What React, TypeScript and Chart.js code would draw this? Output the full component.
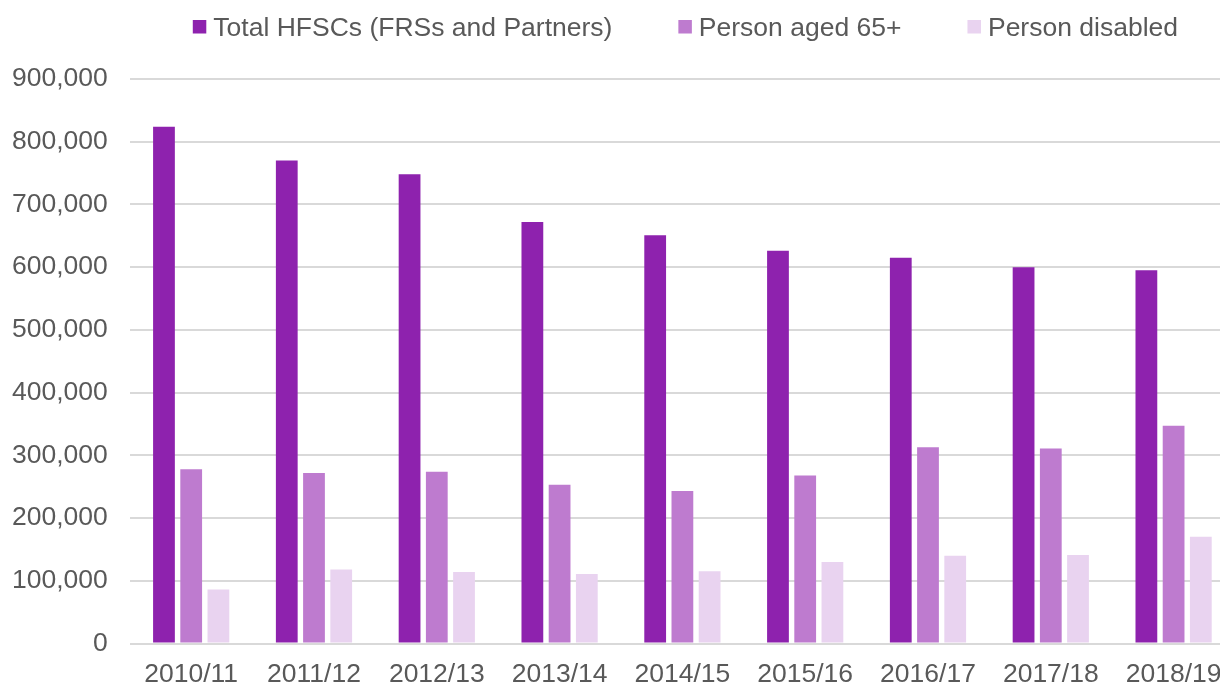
import React, { useEffect, useRef } from "react";
import { Chart, registerables } from "chart.js";

Chart.register(...registerables);

const categories = [
  "2010/11",
  "2011/12",
  "2012/13",
  "2013/14",
  "2014/15",
  "2015/16",
  "2016/17",
  "2017/18",
  "2018/19",
];

const totalHFSCs = [824000, 770000, 748000, 672000, 651000, 626000, 615000, 600000, 595000];
const personAged65 = [278000, 272000, 274000, 253000, 243000, 268000, 313000, 311000, 347000];
const personDisabled = [86000, 118000, 114000, 111000, 115000, 130000, 140000, 141000, 170000];

const seriesLabels = ["Total HFSCs (FRSs and Partners)", "Person aged 65+", "Person disabled"];
const seriesColors = ["#8E22AE", "#BE7BCF", "#E9D3F0"];

const yMin = 0;
const yMax = 900000;
const yStep = 100000;

const TEXT_COLOR = "#595959";
const FONT_FAMILY = '"Liberation Sans", Arial, Helvetica, sans-serif';
const FONT_SIZE = 26.5;

const legendPlugin = {
  id: "customTopLegend",
  afterDraw(chart: any) {
    const ctx = chart.ctx as CanvasRenderingContext2D;
    const ca = chart.chartArea;
    ctx.save();
    ctx.font = `${FONT_SIZE}px ${FONT_FAMILY}`;
    const box = 13.5;
    const gap = 7;
    const itemGap = 66;
    const items = chart.data.datasets.map((ds: any) => ({
      text: ds.label as string,
      color: ds.backgroundColor as string,
      w: ctx.measureText(ds.label).width,
    }));
    const total =
      items.reduce((s: number, it: any) => s + box + gap + it.w, 0) + itemGap * (items.length - 1);
    let x = (ca.left + ca.right) / 2 + 3 - total / 2;
    ctx.textAlign = "left";
    ctx.textBaseline = "alphabetic";
    for (const it of items) {
      ctx.fillStyle = it.color;
      ctx.fillRect(x, 20, box, box);
      ctx.fillStyle = TEXT_COLOR;
      ctx.fillText(it.text, x + box + gap, 36);
      x += box + gap + it.w + itemGap;
    }
    ctx.restore();
  },
};

export default function App() {
  const canvasRef = useRef<HTMLCanvasElement | null>(null);

  useEffect(() => {
    if (!canvasRef.current) return;
    Chart.defaults.font.family = FONT_FAMILY;
    Chart.defaults.color = TEXT_COLOR;

    const seriesData = [totalHFSCs, personAged65, personDisabled];

    const chart = new Chart(canvasRef.current, {
      type: "bar",
      data: {
        labels: categories,
        datasets: seriesData.map((d, i) => ({
          label: seriesLabels[i],
          data: d,
          backgroundColor: seriesColors[i],
          borderWidth: 0,
          barPercentage: 0.8,
          categoryPercentage: 0.665,
        })),
      },
      options: {
        responsive: false,
        animation: false,
        devicePixelRatio: 1,
        layout: {
          padding: { top: 79, left: 0, right: 5, bottom: 0 },
        },
        plugins: {
          legend: { display: false },
          tooltip: { enabled: false },
          title: { display: false },
        },
        scales: {
          x: {
            grid: { display: false, drawTicks: false },
            border: { display: false },
            ticks: {
              color: TEXT_COLOR,
              font: { size: FONT_SIZE, family: FONT_FAMILY, lineHeight: 1 },
              padding: 18,
              maxRotation: 0,
              autoSkip: false,
            },
          },
          y: {
            min: yMin,
            max: yMax,
            grid: { color: "#d9d9d9", lineWidth: 2, drawTicks: false },
            border: { display: false },
            ticks: {
              stepSize: yStep,
              color: TEXT_COLOR,
              font: { size: FONT_SIZE, family: FONT_FAMILY },
              padding: 22,
              callback: (v: any) => Number(v).toLocaleString("en-US"),
            },
          },
        },
      },
      plugins: [legendPlugin],
    });

    return () => chart.destroy();
  }, []);

  return (
    <div
      style={{
        position: "fixed",
        left: 0,
        top: 0,
        width: 1220,
        height: 686,
        overflow: "hidden",
        background: "#ffffff",
      }}
    >
      <canvas
        ref={canvasRef}
        width={1250}
        height={706}
        style={{ width: 1250, height: 706, display: "block", marginLeft: -10 }}
      />
    </div>
  );
}
